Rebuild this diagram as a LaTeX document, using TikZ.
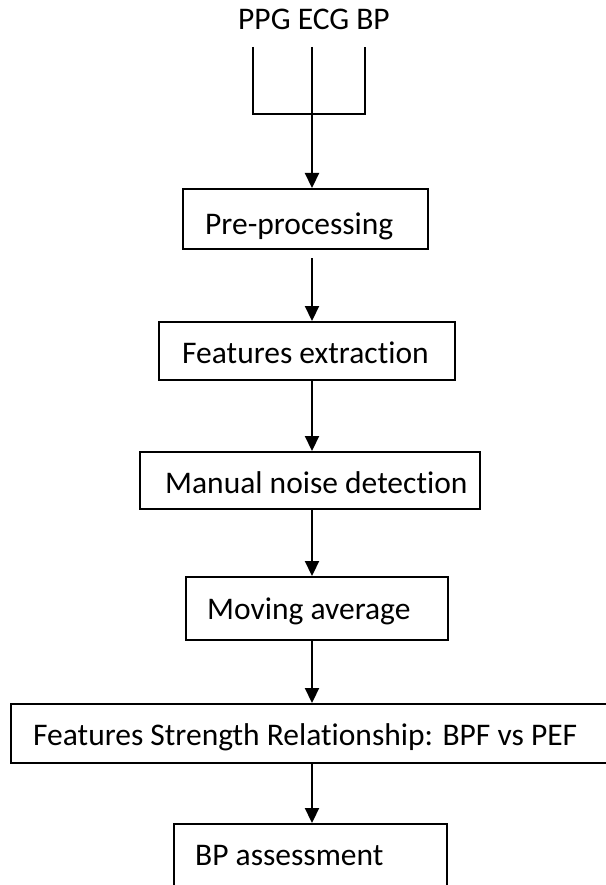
\documentclass[tikz,border=0pt]{standalone}
\usepackage{fontspec}
\setmainfont{Carlito}[Ligatures={NoCommon}, RawFeature={-liga;-clig}]
\usetikzlibrary{arrows.meta}
\begin{document}
\begin{tikzpicture}[x=1pt,y=-1pt,
  boxstyle/.style={draw, line width=2pt, inner sep=0pt},
  lbl/.style={anchor=base west, inner sep=0pt, font=\fontsize{31.5}{36}\selectfont},
  link/.style={line width=2.2pt, -{Triangle[length=15pt,width=14pt]}},
  wire/.style={line width=2.2pt}]
\useasboundingbox (0,0) rectangle (605,885);
\fill[white] (0,0) rectangle (605,885);
% title and fork
\node[lbl] (t0) at (238,30) {PPG ECG BP};
\coordinate (fl) at (253,47);
\coordinate (fm) at (312,47);
\coordinate (fr) at (365,47);
\coordinate (fj) at (312,114);
% boxes
\node[boxstyle, minimum width=245pt, minimum height=60pt] (b1) at (305.5,219) {};
\node[boxstyle, minimum width=296pt, minimum height=58pt] (b2) at (307,351) {};
\node[boxstyle, minimum width=340pt, minimum height=57pt] (b3) at (310,480.5) {};
\node[boxstyle, minimum width=262pt, minimum height=63pt] (b4) at (317,608.5) {};
\node[boxstyle, minimum width=609pt, minimum height=59pt] (b5) at (315.5,733.5) {};
\node[boxstyle, minimum width=273pt, minimum height=76pt] (b6) at (310.5,862) {};
% labels
\node[lbl] (t1) at (205,235) {Pre-processing};
\node[lbl] (t2) at (182,363) {Features extraction};
\node[lbl] (t3) at (165,493) {Manual noise detection};
\node[lbl] (t4) at (207,619) {Moving average};
\node[lbl] (t5) at (33,745) {Features Strength Relationship: BPF vs PEF};
\node[lbl] (t6) at (195,865) {BP assessment};
% connectors
\draw[wire] (fl) |- (fj) -| (fr);
\draw[link] (fm) -- (fj) -- (b1.north -| fm);
\draw[link, shorten <=8pt] (b1.south -| fm) -- (b2.north -| fm);
\draw[link] (b2.south -| fm) -- (b3.north -| fm);
\draw[link] (b3.south -| fm) -- (b4.north -| fm);
\draw[link] (b4.south -| fm) -- (b5.north -| fm);
\draw[link] (b5.south -| fm) -- (b6.north -| fm);
\end{tikzpicture}
\end{document}
